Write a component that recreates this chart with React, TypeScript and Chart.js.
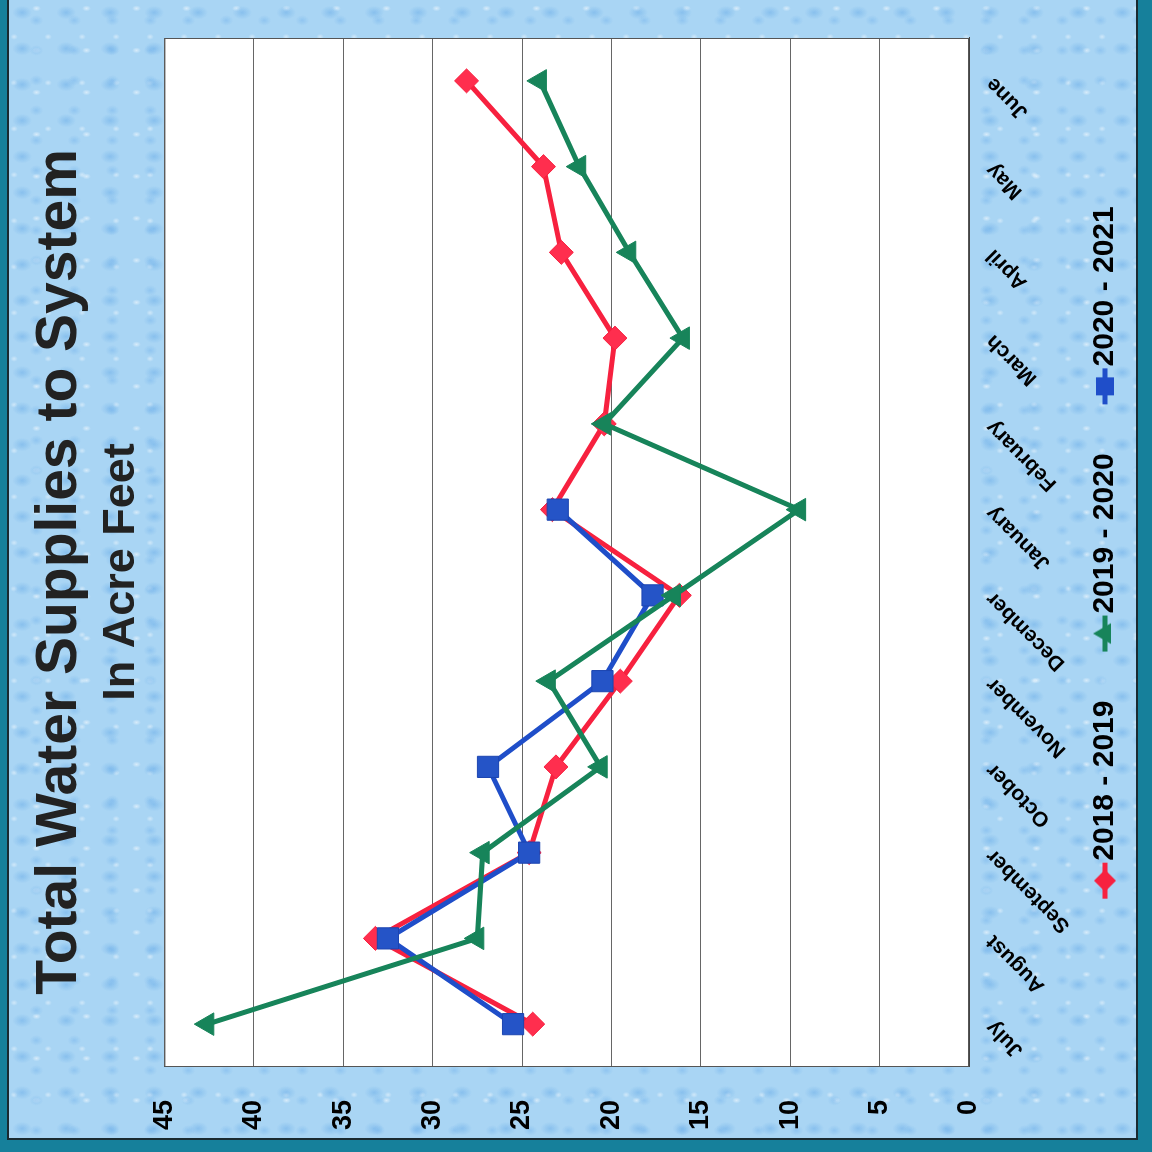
import React, { useEffect, useRef } from 'react';
import { Chart, registerables } from 'chart.js';

Chart.register(...registerables);

const months = ['July', 'August', 'September', 'October', 'November', 'December', 'January', 'February', 'March', 'April', 'May', 'June'];
const values2018_2019 = [24.4, 33.2, 24.6, 23.1, 19.5, 16.2, 23.3, 20.4, 19.8, 22.8, 23.8, 28.1];
const values2019_2020 = [42.6, 27.5, 27.2, 20.6, 23.5, 16.5, 9.5, 20.4, 16.0, 19.0, 21.8, 24.0];
const values2020_2021 = [25.5, 32.5, 24.6, 26.9, 20.5, 17.7, 23.0, null, null, null, null, null];
const seriesNames = ['2018 - 2019', '2019 - 2020', '2020 - 2021'];
const yMin = 0;
const yMax = 45;
const yStep = 5;

const RED = '#f7213f';
const GREEN = '#17845a';
const BLUE = '#1f4ec9';
const FONT = '"Liberation Sans", Arial, Helvetica, sans-serif';

function makeIcon(color: string, style: string): HTMLCanvasElement {
  const c = document.createElement('canvas');
  c.width = 92;
  c.height = 30;
  const ctx = c.getContext('2d')!;
  const cx = 72;
  const cy = 15;
  ctx.strokeStyle = color;
  ctx.fillStyle = color;
  ctx.lineWidth = 5;
  ctx.beginPath();
  ctx.moveTo(cx - 18, cy);
  ctx.lineTo(cx + 18, cy);
  ctx.stroke();
  ctx.beginPath();
  if (style === 'rectRot') {
    const r = 11;
    ctx.moveTo(cx, cy - r);
    ctx.lineTo(cx + r, cy);
    ctx.lineTo(cx, cy + r);
    ctx.lineTo(cx - r, cy);
  } else if (style === 'triangle') {
    const r = 12;
    ctx.moveTo(cx, cy - r);
    ctx.lineTo(cx + r * 0.866, cy + r * 0.5);
    ctx.lineTo(cx - r * 0.866, cy + r * 0.5);
  } else {
    const h = 9;
    ctx.rect(cx - h, cy - h, 2 * h, 2 * h);
  }
  ctx.closePath();
  ctx.fill();
  return c;
}

const plotFrame = {
  id: 'plotFrame',
  afterLayout(chart: any) {
    // let the value labels extend to the canvas edge instead of being clipped
    if (chart.scales && chart.scales.y) chart.scales.y.left = 0;
  },
  beforeDraw(chart: any) {
    const { ctx, chartArea } = chart;
    if (!chartArea) return;
    ctx.save();
    ctx.fillStyle = '#ffffff';
    ctx.fillRect(chartArea.left, chartArea.top, chartArea.right - chartArea.left, chartArea.bottom - chartArea.top);
    ctx.restore();
  },
  beforeDatasetsDraw(chart: any) {
    const { ctx, chartArea } = chart;
    ctx.save();
    ctx.strokeStyle = '#555555';
    ctx.lineWidth = 1;
    ctx.strokeRect(chartArea.left + 0.5, chartArea.top + 0.5, chartArea.right - chartArea.left - 1, chartArea.bottom - chartArea.top - 1);
    ctx.restore();
  },
};

export default function App() {
  const canvasRef = useRef<HTMLCanvasElement | null>(null);

  useEffect(() => {
    if (!canvasRef.current) return;
    const styles = ['rectRot', 'triangle', 'rect'];
    const colors = [RED, GREEN, BLUE];
    const icons = styles.map((s, i) => makeIcon(colors[i], s));

    const chart = new Chart(canvasRef.current, {
      type: 'line',
      data: {
        labels: months,
        datasets: [
          {
            label: seriesNames[0],
            data: values2018_2019,
            borderColor: RED,
            backgroundColor: RED,
            borderWidth: 5,
            pointStyle: 'rectRot',
            pointRadius: 12,
            pointBorderWidth: 1,
            pointBackgroundColor: '#ff2e4e',
            pointBorderColor: RED,
            order: 3,
          },
          {
            label: seriesNames[1],
            data: values2019_2020,
            borderColor: GREEN,
            backgroundColor: GREEN,
            borderWidth: 5,
            pointStyle: 'triangle',
            pointRadius: 13,
            pointBorderWidth: 1,
            pointBackgroundColor: GREEN,
            pointBorderColor: GREEN,
            order: 1,
          },
          {
            label: seriesNames[2],
            data: values2020_2021,
            borderColor: BLUE,
            backgroundColor: BLUE,
            borderWidth: 5,
            pointStyle: 'rect',
            pointRadius: 15,
            pointBorderWidth: 1,
            pointBackgroundColor: '#2554c7',
            pointBorderColor: '#1c45b0',
            order: 2,
          },
        ],
      },
      options: {
        responsive: false,
        animation: false,
        devicePixelRatio: 1,
        layout: { padding: { left: 46, right: 38, top: 0, bottom: 22 } },
        plugins: {
          title: {
            display: true,
            text: 'Total Water Supplies to System',
            color: '#222222',
            font: { family: FONT, size: 57, weight: 'bold' },
            padding: { top: 26, bottom: 0 },
          },
          subtitle: {
            display: true,
            text: 'In Acre Feet',
            color: '#222222',
            font: { family: FONT, size: 45, weight: 'bold' },
            padding: { top: 0, bottom: 16 },
          },
          legend: {
            position: 'bottom',
            labels: {
              usePointStyle: true,
              pointStyleWidth: 62,
              padding: 10,
              color: '#000000',
              font: { family: FONT, size: 30, weight: 'bold' },
              generateLabels: (ch: any) => {
                const items = (Chart as any).defaults.plugins.legend.labels.generateLabels(ch);
                items.sort((a: any, b: any) => a.datasetIndex - b.datasetIndex);
                return items.map((it: any) => ({ ...it, pointStyle: icons[it.datasetIndex], rotation: 0 }));
              },
            },
          },
          tooltip: { enabled: false },
        },
        scales: {
          x: {
            type: 'category',
            offset: true,
            grid: { display: false, drawTicks: false },
            border: { display: true, color: '#444444', width: 1 },
            ticks: {
              color: '#000000',
              font: { family: FONT, size: 21, weight: 'bold' },
              minRotation: 45,
              maxRotation: 45,
              padding: 12,
              autoSkip: false,
            },
            afterFit: (s: any) => {
              s.height = 111;
            },
          },
          y: {
            min: yMin,
            max: yMax,
            ticks: {
              stepSize: yStep,
              color: '#000000',
              font: { family: FONT, size: 27, weight: 'bold' },
              padding: 33,
            },
            grid: { color: '#666666', lineWidth: 1, drawTicks: false },
            border: { display: true, color: '#444444', width: 1 },
            afterFit: (s: any) => {
              s.width = 39;
            },
          },
        },
      },
      plugins: [plotFrame],
    } as any);

    return () => {
      chart.destroy();
    };
  }, []);

  const texture =
    'radial-gradient(ellipse 13px 9px at 30% 35%, rgba(110,175,232,0.55), rgba(110,175,232,0) 75%),' +
    'radial-gradient(ellipse 9px 7px at 72% 68%, rgba(120,182,236,0.5), rgba(120,182,236,0) 75%),' +
    'radial-gradient(ellipse 6px 4px at 55% 20%, rgba(255,255,255,0.55), rgba(255,255,255,0) 75%),' +
    'radial-gradient(ellipse 5px 4px at 15% 80%, rgba(255,255,255,0.45), rgba(255,255,255,0) 75%)';

  return (
    <div style={{ position: 'absolute', left: 0, top: 0, width: 1152, height: 1152, background: '#16809b', overflow: 'hidden' }}>
      <div
        style={{
          position: 'absolute',
          left: 7,
          top: 0,
          width: 1131,
          height: 1140,
          boxSizing: 'border-box',
          borderLeft: '2px solid #1a2a30',
          borderRight: '2px solid #1a2a30',
          borderBottom: '2px solid #1a2a30',
          backgroundColor: '#a9d5f4',
          backgroundImage: texture,
          backgroundSize: '44px 36px, 38px 30px, 50px 42px, 34px 46px',
        }}
      />
      <div
        style={{
          position: 'absolute',
          left: 0,
          top: 0,
          width: 1152,
          height: 1152,
          transform: 'rotate(-90deg)',
          transformOrigin: '50% 50%',
        }}
      >
        <canvas ref={canvasRef} width={1152} height={1152} style={{ display: 'block', width: 1152, height: 1152 }} />
      </div>
    </div>
  );
}
